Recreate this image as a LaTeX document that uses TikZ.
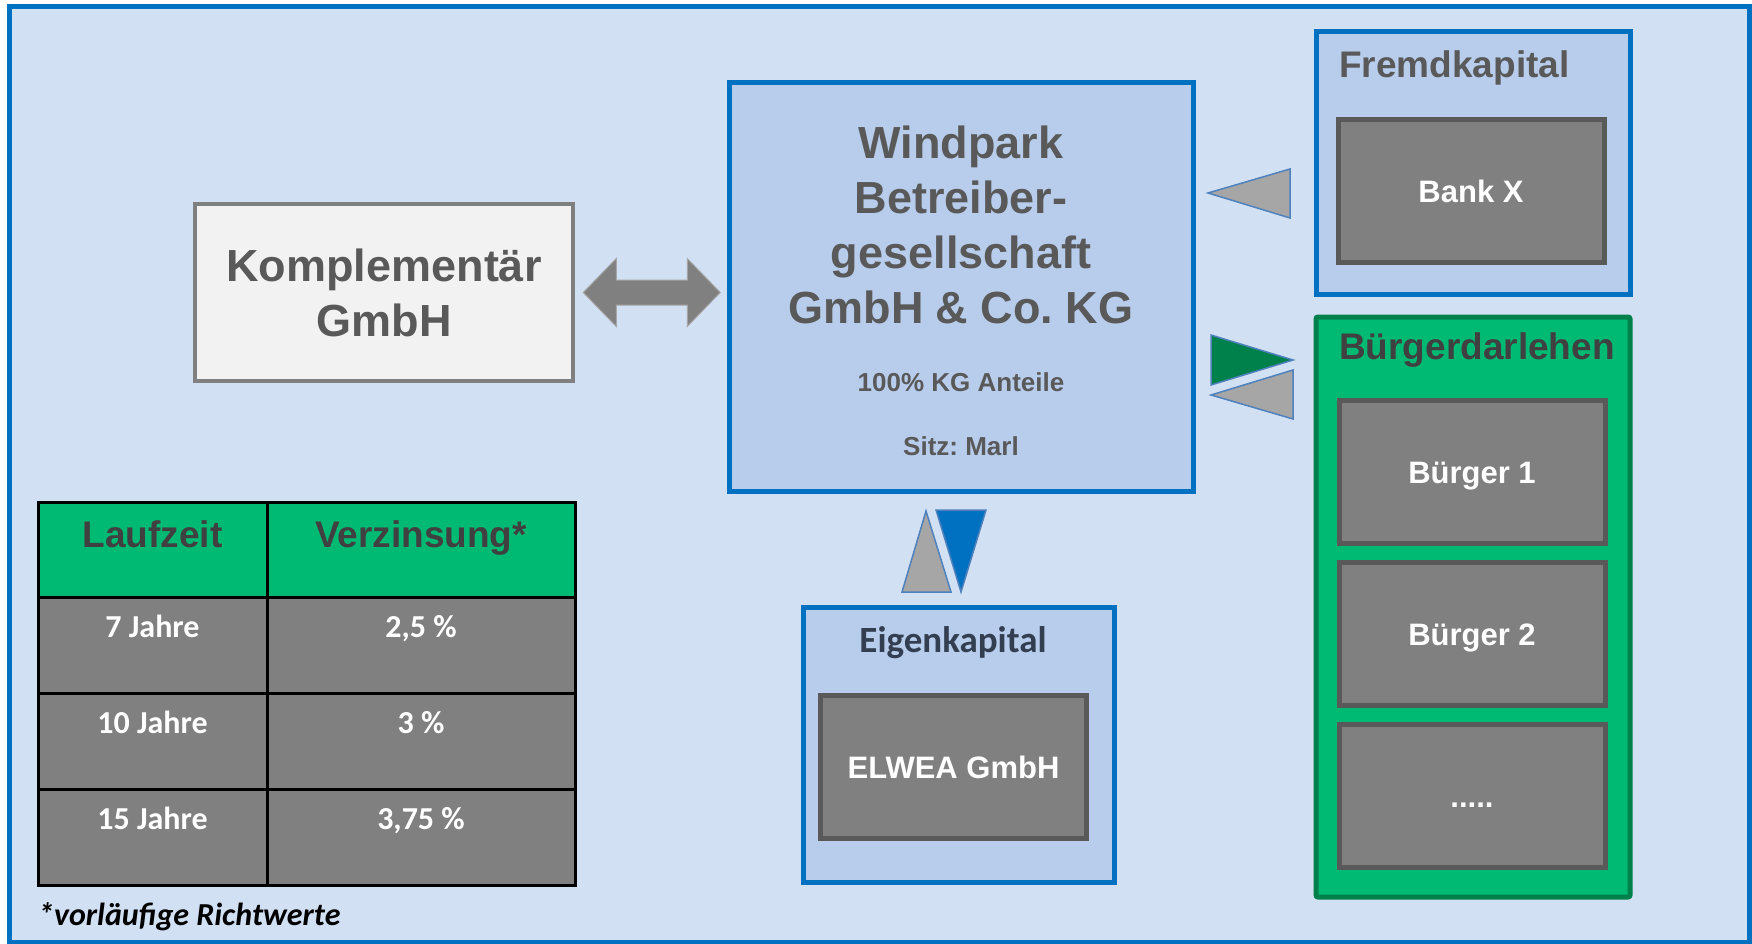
\documentclass[tikz,border=0pt]{standalone}
\usepackage{fontspec}
\setmainfont{Liberation Sans}
\newfontfamily\calibri{Carlito}
\usetikzlibrary{positioning}
\frenchspacing

\definecolor{bgblue}{RGB}{210,224,243}
\definecolor{frameblue}{RGB}{0,112,192}
\definecolor{boxblue}{RGB}{184,205,236}
\definecolor{midgray}{RGB}{128,128,128}
\definecolor{txtgray}{RGB}{89,89,89}
\definecolor{headgray}{RGB}{64,64,64}
\definecolor{lightfill}{RGB}{242,242,242}
\definecolor{kgreen}{RGB}{0,185,115}
\definecolor{kgreendark}{RGB}{0,128,74}
\definecolor{trigray}{RGB}{166,166,166}
\definecolor{triedge}{RGB}{79,129,189}
\definecolor{eigentxt}{RGB}{51,63,80}

\tikzset{%
  % Specifications for style of nodes:
        base/.style = {rectangle, inner sep=0pt, font=\bfseries},
     bluebox/.style = {base, draw=frameblue, fill=boxblue, line width=5pt},
    lightbox/.style = {base, draw=midgray, fill=lightfill, line width=4.5pt,
                       text=txtgray, font=\bfseries\fontsize{45}{55}\selectfont},
     darkbox/.style = {base, draw=txtgray, fill=midgray, line width=5pt,
                       minimum width=266pt, minimum height=143pt,
                       text=white, text height=22pt, text depth=0pt,
                       font=\bfseries\fontsize{31}{37}\selectfont},
    greenbox/.style = {base, draw=kgreendark, fill=kgreen, line width=5pt,
                       rounded corners=2pt},
    boxtitle/.style = {base, text=txtgray, font=\bfseries\fontsize{37}{44}\selectfont},
    headcell/.style = {base, draw=black, fill=kgreen, line width=3pt,
                       outer sep=0pt, anchor=north west, minimum height=95pt},
    bodycell/.style = {base, draw=black, fill=midgray, line width=3pt,
                       outer sep=0pt, anchor=north west, minimum height=96pt},
    headtext/.style = {base, anchor=base, text=headgray,
                       font=\bfseries\fontsize{37}{44}\selectfont},
    celltext/.style = {base, anchor=base, text=white,
                       font=\calibri\bfseries\fontsize{32}{38}\selectfont},
    triangle/.style = {fill=trigray, draw=triedge, line width=1.5pt}
}

\begin{document}
\begin{tikzpicture}[x=1pt, y=-1pt, every node/.style={node distance=14pt}, align=center]
  \useasboundingbox (0,0) rectangle (1752,944);
  \fill[white] (0,0) rectangle (1752,944);
  \draw[frameblue, fill=bgblue, line width=5pt] (9.5,7) rectangle (1749,942.5);

  \node (komp) [lightbox, minimum width=378pt, minimum height=177pt] at (384,292.5) {Komplementär\\GmbH};

  % KG in der Mitte
  \node (windpark) [bluebox, minimum width=464pt, minimum height=409pt] at (961,287) {};
  \node (wptitle) [base, anchor=north, text=txtgray, font=\bfseries\fontsize{45}{55}\selectfont]
        at (961,126) {Windpark\\Betreiber-\\gesellschaft\\GmbH \& Co.\ KG};
  \node (anteile) [base, anchor=base, text=txtgray, font=\bfseries\fontsize{26}{31}\selectfont]
        at (961,391) {100\% KG Anteile};
  \node (sitz) [base, anchor=base, text=txtgray, font=\bfseries\fontsize{26}{31}\selectfont]
        at (961,455) {Sitz: Marl};

  \draw[fill=midgray, draw=trigray, line width=1pt] ([xshift=8pt]komp.east)
        -- ++(33,-34) -- ++(0,21.5) -- ++(71,0) -- ++(0,-21.5) -- ++(33,34)
        -- ++(-33,34) -- ++(0,-21.5) -- ++(-71,0) -- ++(0,21.5) -- cycle;

  % Fremdkapital
  \node (fremd) [bluebox, minimum width=314pt, minimum height=262pt] at (1473,163) {};
  \node (fremdtitle) [boxtitle, anchor=base west] at (1339,78) {Fremdkapital};
  \node (bank) [darkbox] at (1471,191) {Bank X};

  % Buergerdarlehen
  \node (buerger) [greenbox, minimum width=314pt, minimum height=580pt] at (1473,607) {};
  \node (buergertitle) [boxtitle, anchor=base west, text=headgray] at (1339,359) {Bürgerdarlehen};
  \node (b1) [darkbox] at (1472,472) {Bürger 1};
  \node (b2) [darkbox, below=of b1] {Bürger 2};
  \node (b3) [darkbox, below=of b2] {.....};

  % Eigenkapital
  \node (eigen) [bluebox, minimum width=311pt, minimum height=275pt] at (959,745) {};
  \node (eigentitle) [base, anchor=base, text=eigentxt,
        font=\calibri\bfseries\fontsize{37}{44}\selectfont] at (953,652) {Eigenkapital};
  \node (elwea) [darkbox] at (953.5,767) {ELWEA GmbH};

  % Pfeile
  \draw[triangle] (1208,193) -- (1290,169) -- (1290,218) -- cycle;
  \draw[triangle, fill=kgreendark] (1211,335) -- (1293,360) -- (1211,385) -- cycle;
  \draw[triangle] (1211,395) -- (1293,370) -- (1293,419) -- cycle;
  \draw[triangle] (926,511) -- (951,592) -- (902,592) -- cycle;
  \draw[triangle, fill=frameblue] (936,510) -- (986,510) -- (961,592) -- cycle;

  % Tabelle
  \node (kopf1) [headcell, minimum width=229pt] at (38,502) {};
  \node (kopf2) [headcell, minimum width=308pt] at (267,502) {};
  \node (laufzeit) [headtext] at (152.5,547) {Laufzeit};
  \node (zinsen) [headtext] at (421,547) {Verzinsung*};
  \foreach \y/\dauer/\zins [count=\i] in {597/7 Jahre/{2,5 \%}, 693/10 Jahre/3 \%, 789/15 Jahre/{3,75 \%}}{
    \node (dauer\i) [bodycell, minimum width=229pt] at (38,\y) {};
    \node (zins\i) [bodycell, minimum width=308pt] at (267,\y) {};
    \node (dauertext\i) [celltext] at (152.5,\y+40) {\dauer};
    \node (zinstext\i) [celltext] at (421,\y+40) {\zins};
  }
  \node (fussnote) [base, anchor=base west, text=black,
        font=\calibri\bfseries\itshape\fontsize{32}{38}\selectfont] at (38,925) {*vorläufige Richtwerte};
\end{tikzpicture}
\end{document}
